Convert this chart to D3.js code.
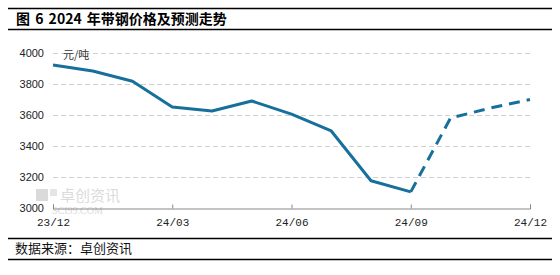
<!DOCTYPE html>
<html>
<head>
<meta charset="utf-8">
<script src="https://cdn.jsdelivr.net/npm/d3@7"></script>
<style>
  body { margin: 0; background: #fff; }
  text { font-family: "Liberation Sans", Arial, "Noto Sans CJK SC", sans-serif; }
</style>
</head>
<body>
<div class="stage"></div>
<script>
// chart size
var width = 560;
var height = 275;

// monthly prices, actual and forecast
var months = ['23/12', '24/01', '24/02', '24/03', '24/04', '24/05', '24/06', '24/07', '24/08', '24/09'];
var actual = [3922, 3884, 3818, 3652, 3626, 3690, 3606, 3497, 3176, 3104];
var forecastMonths = ['24/09', '24/10', '24/11', '24/12'];
var forecast = [3104, 3580, 3645, 3700];
var xTicks = ['23/12', '24/03', '24/06', '24/09', '24/12'];
var yTicks = [3000, 3200, 3400, 3600, 3800, 4000];

// month index from 23/12
var monthIndex = function(m) {
  var p = m.split('/');
  return (+p[0] - 23) * 12 + (+p[1] - 12);
};

var svg = d3.select('.stage')
  .append('svg')
  .attr('width', width)
  .attr('height', height);

var x = d3.scaleLinear().domain([0, 12]).range([53, 530]);
var y = d3.scaleLinear().domain([3000, 4000]).range([208, 53]);

// title bars
svg.append('line').attr('x1', 8).attr('x2', 552).attr('y1', 8.5).attr('y2', 8.5)
  .attr('stroke', '#000').attr('stroke-width', 1.5);
svg.append('line').attr('x1', 8).attr('x2', 552).attr('y1', 29.5).attr('y2', 29.5)
  .attr('stroke', '#000').attr('stroke-width', 1.5);
svg.append('text').attr('x', 16).attr('y', 24)
  .style('font-family', '"Noto Sans CJK SC", sans-serif')
  .style('font-size', '14px').style('font-weight', 'bold')
  .style('word-spacing', '2px')
  .text('图 6 2024 年带钢价格及预测走势');

// gridlines
svg.selectAll('.grid')
  .data(yTicks.slice(1))
  .enter()
  .append('line')
  .attr('class', 'grid')
  .attr('x1', 53).attr('x2', 532)
  .attr('y1', function(d) { return Math.round(y(d)) + 0.5; })
  .attr('y2', function(d) { return Math.round(y(d)) + 0.5; })
  .attr('stroke', '#d0d0d0')
  .attr('stroke-dasharray', '5,3');

// y labels
svg.selectAll('.ylab')
  .data(yTicks)
  .enter()
  .append('text')
  .attr('class', 'ylab')
  .attr('x', 44)
  .attr('y', function(d) { return y(d) + 4; })
  .attr('text-anchor', 'end')
  .style('font-size', '11px')
  .style('fill', '#222')
  .text(function(d) { return d; });

// watermark
var wm = svg.append('g').attr('opacity', 0.3);
wm.append('rect').attr('x', 36).attr('y', 189).attr('width', 12).attr('height', 12).attr('fill', '#888');
wm.append('rect').attr('x', 50).attr('y', 189).attr('width', 7).attr('height', 7).attr('fill', '#aaa');
wm.append('text').attr('x', 60).attr('y', 201)
  .style('font-family', '"Noto Sans CJK SC", sans-serif')
  .style('font-size', '15px').style('fill', '#888')
  .text('卓创资讯');
wm.append('text').attr('x', 52).attr('y', 214)
  .style('font-family', '"Liberation Serif", serif')
  .style('font-size', '10px').style('fill', '#888')
  .text('SCI99.COM');

// x axis
var xAxis = d3.axisBottom(x)
  .tickValues(xTicks.map(monthIndex))
  .tickSize(-4)
  .tickPadding(10)
  .tickFormat(function(d, i) { return xTicks[i]; });

var gx = svg.append('g')
  .attr('transform', 'translate(0,208.5)')
  .call(xAxis);
gx.select('.domain').attr('stroke', '#888');
gx.selectAll('.tick line').attr('stroke', '#888');
gx.selectAll('.tick text')
  .style('font-family', '"Liberation Mono", "DejaVu Sans Mono", monospace')
  .style('font-size', '11px')
  .style('fill', '#222');

// unit
svg.append('text').attr('x', 63).attr('y', 59)
  .style('font-family', '"Noto Sans CJK SC", sans-serif')
  .style('font-size', '11px').style('fill', '#333')
  .text('元/吨');

var line = d3.line()
  .x(function(d) { return x(monthIndex(d[0])); })
  .y(function(d) { return y(d[1]); });

svg.append('path')
  .datum(d3.zip(months, actual))
  .attr('d', line)
  .attr('fill', 'none')
  .attr('stroke', '#17709c')
  .attr('stroke-width', 3)
  .attr('stroke-linejoin', 'round');

svg.append('path')
  .datum(d3.zip(forecastMonths, forecast))
  .attr('d', line)
  .attr('fill', 'none')
  .attr('stroke', '#17709c')
  .attr('stroke-width', 3)
  .attr('stroke-dasharray', '11,7');

// footer
svg.append('line').attr('x1', 8).attr('x2', 552).attr('y1', 238.5).attr('y2', 238.5)
  .attr('stroke', '#000').attr('stroke-width', 1.5);
svg.append('line').attr('x1', 8).attr('x2', 552).attr('y1', 259.5).attr('y2', 259.5)
  .attr('stroke', '#000').attr('stroke-width', 1.5);
svg.append('text').attr('x', 15).attr('y', 253)
  .style('font-family', '"Noto Sans CJK SC", sans-serif')
  .style('font-size', '13px').style('fill', '#111')
  .text('数据来源：卓创资讯');
</script>
</body>
</html>
